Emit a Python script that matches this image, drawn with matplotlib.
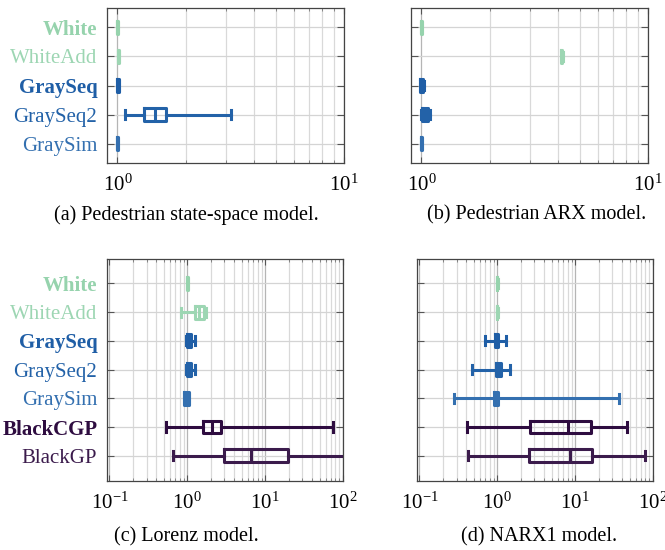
import numpy as np
import matplotlib
matplotlib.use("Agg")
import matplotlib.pyplot as plt
from matplotlib.ticker import LogLocator, NullFormatter

plt.rcParams['font.family'] = ['Liberation Serif', 'DejaVu Serif']
plt.rcParams['mathtext.fontset'] = 'stix'

# labels and colours
labels_top = ["White", "WhiteAdd", "GraySeq", "GraySeq2", "GraySim"]
labels_bot = ["White", "WhiteAdd", "GraySeq", "GraySeq2", "GraySim", "BlackCGP", "BlackGP"]
bold_labels = ["White", "GraySeq", "BlackCGP"]
colors = {"White": "#96d3ad", "WhiteAdd": "#9dd6b3", "GraySeq": "#1f5ea6",
          "GraySeq2": "#2362a8", "GraySim": "#3470b0",
          "BlackCGP": "#2e0c40", "BlackGP": "#3b1b4c"}

# (a) Pedestrian state-space model: lo, q1, med, q3, hi
a_lo = [0.995, 1.005, 0.998, 1.08, 0.997]
a_q1 = [0.997, 1.007, 1.000, 1.31, 0.998]
a_med = [1.000, 1.010, 1.008, 1.46, 1.000]
a_q3 = [1.003, 1.013, 1.015, 1.64, 1.003]
a_hi = [1.005, 1.015, 1.020, 3.17, 1.005]

# (b) Pedestrian ARX model
b_lo = [0.998, 4.12, 0.985, 0.995, 0.997]
b_q1 = [0.999, 4.14, 0.990, 1.010, 0.998]
b_med = [1.000, 4.16, 1.000, 1.040, 1.000]
b_q3 = [1.002, 4.18, 1.020, 1.070, 1.002]
b_hi = [1.003, 4.20, 1.030, 1.095, 1.003]

# (c) Lorenz model
c_lo = [0.98, 0.84, 0.95, 0.95, 0.90, 0.535, 0.65]
c_q1 = [0.99, 1.25, 0.98, 0.98, 0.92, 1.61, 2.96]
c_med = [1.00, 1.40, 1.05, 1.05, 0.97, 2.10, 6.5]
c_q3 = [1.02, 1.62, 1.13, 1.13, 1.04, 2.73, 19.9]
c_hi = [1.03, 1.72, 1.25, 1.25, 1.06, 74.6, 105.0]

# (d) NARX1 model
d_lo = [0.99, 0.99, 0.695, 0.474, 0.28, 0.41, 0.425]
d_q1 = [0.995, 0.995, 0.935, 0.96, 0.91, 2.62, 2.55]
d_med = [1.00, 1.00, 1.00, 1.03, 0.96, 8.1, 8.6]
d_q3 = [1.005, 1.005, 1.03, 1.10, 1.01, 16.2, 16.5]
d_hi = [1.01, 1.01, 1.29, 1.455, 36.6, 46.0, 79.6]

W, H = 665, 550


def px_axes(fig, x0, y0, x1, y1):
    return fig.add_axes([x0 / W, 1 - y1 / H, (x1 - x0) / W, (y1 - y0) / H])


def draw_panel(ax, labels, lo, q1, med, q3, hi, xlim, ylim, show_labels):
    stats = []
    for i in range(len(labels)):
        stats.append(dict(med=med[i], q1=q1[i], q3=q3[i], whislo=lo[i], whishi=hi[i], fliers=[]))
    pos = np.arange(1, len(labels) + 1)
    for i, lab in enumerate(labels):
        c = colors[lab]
        lp = dict(color=c, linewidth=2.2)
        ax.bxp([stats[i]], positions=[pos[i]], vert=False, widths=0.45, capwidths=0.32,
               showfliers=False, patch_artist=False,
               boxprops=lp, whiskerprops=lp, capprops=lp, medianprops=lp,
               manage_ticks=False, zorder=3)
    ax.set_xscale("log")
    ax.set_xlim(*xlim)
    ax.set_ylim(*ylim)
    ax.set_yticks(pos)
    if show_labels:
        ax.set_yticklabels(labels, fontsize=15)
        for t, lab in zip(ax.get_yticklabels(), labels):
            t.set_color(colors[lab])
            if lab in bold_labels:
                t.set_fontweight("bold")
    else:
        ax.set_yticklabels([])
    ax.xaxis.set_major_locator(LogLocator(base=10, numticks=10))
    ax.xaxis.set_minor_locator(LogLocator(base=10, subs=np.arange(2, 10), numticks=20))
    ax.xaxis.set_minor_formatter(NullFormatter())
    ax.tick_params(axis="x", which="both", direction="in", top=True, labelsize=15, pad=8)
    ax.tick_params(axis="x", which="major", length=4, color="#555555")
    ax.tick_params(axis="x", which="minor", length=2.5, color="#777777")
    ax.tick_params(axis="y", direction="in", right=True, length=5, pad=7, color="#555555")
    ax.grid(True, which="major", axis="x", color="#b5b5b5", linewidth=0.9)
    ax.grid(True, which="minor", axis="x", color="#d9d9d9", linewidth=0.9)
    ax.grid(True, which="major", axis="y", color="#d4d4d4", linewidth=0.9)
    ax.set_axisbelow(True)
    for s in ax.spines.values():
        s.set_color("#444444")
        s.set_linewidth(0.9)


fig = plt.figure(figsize=(W / 100, H / 100), dpi=100)

ax_a = px_axes(fig, 107, 8, 344, 163)
draw_panel(ax_a, labels_top, a_lo, a_q1, a_med, a_q3, a_hi, (0.9, 10), (5.67, 0.33), True)
ax_b = px_axes(fig, 411, 8, 648, 163)
draw_panel(ax_b, labels_top, b_lo, b_q1, b_med, b_q3, b_hi, (0.9, 10), (5.67, 0.33), False)
ax_c = px_axes(fig, 107, 259, 343, 481)
draw_panel(ax_c, labels_bot, c_lo, c_q1, c_med, c_q3, c_hi, (0.093, 100), (7.88, 0.15), True)
ax_d = px_axes(fig, 417, 259, 653, 481)
draw_panel(ax_d, labels_bot, d_lo, d_q1, d_med, d_q3, d_hi, (0.093, 100), (7.88, 0.15), False)

# captions
captions = [("(a) Pedestrian state-space model.", 186, 215),
            ("(b) Pedestrian ARX model.", 537, 215),
            ("(c) Lorenz model.", 186, 537),
            ("(d) NARX1 model.", 539, 537)]
for txt, x, y in captions:
    fig.text(x / W, 1 - y / H, txt, ha="center", va="center", fontsize=14.5)

fig.savefig("out.png", dpi=100)
